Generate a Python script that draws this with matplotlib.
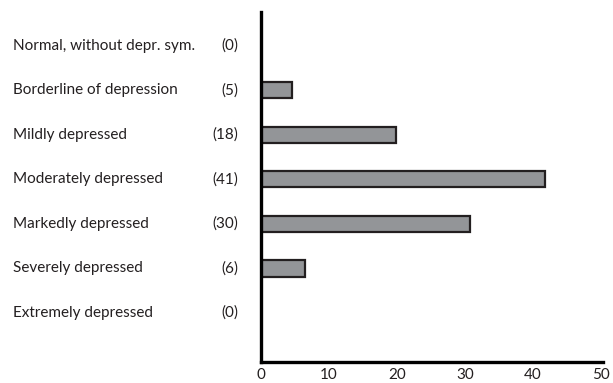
import matplotlib
matplotlib.use("Agg")
import matplotlib.pyplot as plt
from matplotlib.transforms import blended_transform_factory

categories = ["Normal, without depr. sym.", "Borderline of depression", "Mildly depressed",
              "Moderately depressed", "Markedly depressed", "Severely depressed", "Extremely depressed"]
counts = ["(0)", "(5)", "(18)", "(41)", "(30)", "(6)", "(0)"]
values = [0, 4.5, 19.8, 41.8, 30.8, 6.5, 0]
xticks = [0, 10, 20, 30, 40, 50]

plt.rcParams['font.family'] = ['Lato', 'DejaVu Sans']
text_color = '#231f20'

fig = plt.figure(figsize=(6.13, 3.83), dpi=100)
ax = fig.add_axes([261/613, 1-362/383, (603-261)/613, (362-12)/383])

ypos = list(range(len(categories)))
for y, v in zip(ypos, values):
    if v > 0:
        ax.barh(y, v, height=0.36, left=0, color='#939598', edgecolor='#231f20', linewidth=1.6, zorder=2)

ax.set_xlim(0, 50.3)
ax.set_ylim(7.1, -0.76)
ax.spines['top'].set_visible(False)
ax.spines['right'].set_visible(False)
for s in ['left', 'bottom']:
    ax.spines[s].set_linewidth(2.4)
    ax.spines[s].set_color('black')
    ax.spines[s].set_zorder(3)
ax.set_yticks([])
ax.set_xticks(xticks)
ax.set_xticklabels([str(t) for t in xticks], fontsize=11, color=text_color)
ax.tick_params(axis='x', length=0, pad=4)

tr = blended_transform_factory(fig.transFigure, ax.transData)
for y, c, n in zip(ypos, categories, counts):
    ax.text(13/613, y, c, transform=tr, ha='left', va='center', fontsize=11, color=text_color)
    ax.text(238/613, y, n, transform=tr, ha='right', va='center', fontsize=11, color=text_color)

fig.savefig("out.png", dpi=100)
